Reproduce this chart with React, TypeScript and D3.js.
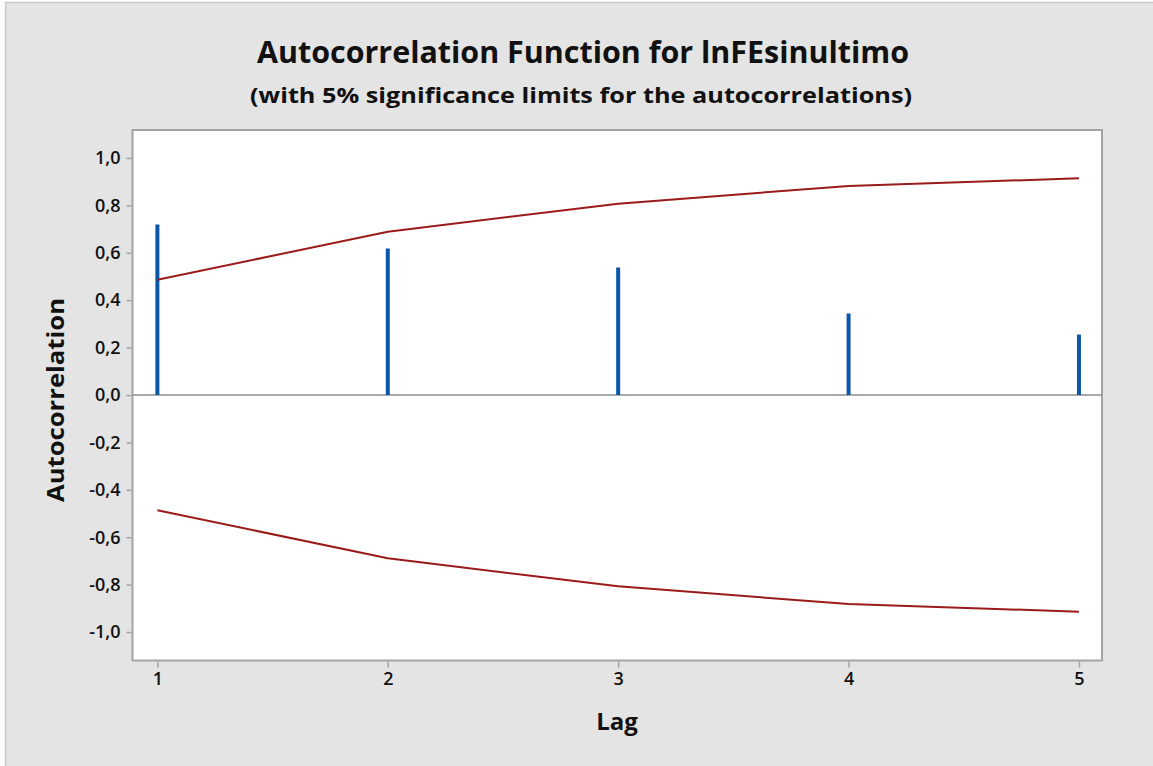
import React, { useEffect, useRef } from "react";
import * as d3 from "d3";

// Autocorrelation values by lag
const lags = [1, 2, 3, 4, 5];
const acf = [0.719, 0.618, 0.538, 0.344, 0.255];
// 5% significance limits (upper bound; lower is mirrored)
const upperLimit = [0.486, 0.689, 0.807, 0.882, 0.914];
const lowerLimit = [-0.486, -0.689, -0.807, -0.882, -0.914];
const yTicks = [-1.0, -0.8, -0.6, -0.4, -0.2, 0.0, 0.2, 0.4, 0.6, 0.8, 1.0];

const W = 1153;
const H = 766;
const plot = { left: 132.5, top: 130, right: 1102, bottom: 660.5 };
const FONT = "'Open Sans', 'Noto Sans', sans-serif";

export default function App() {
  const ref = useRef<SVGSVGElement>(null);

  useEffect(() => {
    const svg = d3.select(ref.current);
    svg.selectAll("*").remove();

    const x = d3.scaleLinear().domain([0.892, 5.1]).range([plot.left, plot.right]);
    const y = d3.scaleLinear().domain([-1.12, 1.118]).range([plot.bottom, plot.top]);

    // page background
    svg.append("rect").attr("width", W).attr("height", H).attr("fill", "#ffffff");
    svg.append("rect")
      .attr("x", 5.5).attr("y", 2.5).attr("width", W).attr("height", H)
      .attr("fill", "#e4e4e4").attr("stroke", "#c9c9c9").attr("stroke-width", 1.5);

    // titles
    svg.append("text")
      .attr("x", 583).attr("y", 63).attr("text-anchor", "middle")
      .attr("font-family", FONT).attr("font-weight", 700).attr("font-size", 30)
      .attr("textLength", 652).attr("lengthAdjust", "spacingAndGlyphs")
      .attr("fill", "#111")
      .text("Autocorrelation Function for lnFEsinultimo");
    svg.append("text")
      .attr("x", 581).attr("y", 103).attr("text-anchor", "middle")
      .attr("font-family", FONT).attr("font-weight", 700).attr("font-size", 22)
      .attr("textLength", 662).attr("lengthAdjust", "spacingAndGlyphs")
      .attr("fill", "#111")
      .text("(with 5% significance limits for the autocorrelations)");

    // plot area
    svg.append("rect")
      .attr("x", plot.left).attr("y", plot.top)
      .attr("width", plot.right - plot.left).attr("height", plot.bottom - plot.top)
      .attr("fill", "#ffffff").attr("stroke", "#a3a3a3").attr("stroke-width", 2);

    // y axis
    const yAxis = d3.axisLeft(y)
      .tickValues(yTicks)
      .tickSize(5)
      .tickPadding(6)
      .tickFormat((d) => d3.format(".1f")(d as number).replace(".", ",").replace("−", "-"));
    const gy = svg.append("g").attr("transform", `translate(${plot.left - 1},0)`).call(yAxis);
    gy.select(".domain").remove();
    gy.selectAll(".tick line").attr("stroke", "#a3a3a3").attr("stroke-width", 1.5);
    gy.selectAll(".tick text")
      .attr("font-family", FONT).attr("font-weight", 600).attr("font-size", 18).attr("fill", "#111");

    // x axis
    const xAxis = d3.axisBottom(x).tickValues(lags).tickSize(6).tickPadding(5)
      .tickFormat((d) => String(d));
    const gx = svg.append("g").attr("transform", `translate(0,${plot.bottom + 1})`).call(xAxis);
    gx.select(".domain").remove();
    gx.selectAll(".tick line").attr("stroke", "#a3a3a3").attr("stroke-width", 1.5);
    gx.selectAll(".tick text")
      .attr("font-family", FONT).attr("font-weight", 600).attr("font-size", 18).attr("fill", "#111");

    // axis titles
    svg.append("text")
      .attr("x", 617).attr("y", 730).attr("text-anchor", "middle")
      .attr("font-family", FONT).attr("font-weight", 700).attr("font-size", 24).attr("fill", "#111")
      .text("Lag");
    svg.append("text")
      .attr("transform", `translate(64,400) rotate(-90)`).attr("text-anchor", "middle")
      .attr("font-family", FONT).attr("font-weight", 700).attr("font-size", 24).attr("fill", "#111")
      .attr("textLength", 204).attr("lengthAdjust", "spacingAndGlyphs")
      .text("Autocorrelation");

    // zero reference line
    svg.append("line")
      .attr("x1", plot.left).attr("x2", plot.right)
      .attr("y1", y(0)).attr("y2", y(0))
      .attr("stroke", "#8c8c8c").attr("stroke-width", 1.5);

    // ACF bars
    svg.append("g").selectAll("line").data(lags).join("line")
      .attr("x1", (d) => x(d)).attr("x2", (d) => x(d))
      .attr("y1", y(0)).attr("y2", (_, i) => y(acf[i]))
      .attr("stroke", "#0a56a8").attr("stroke-width", 4);

    // significance limits
    const line = d3.line<number>().x((_, i) => x(lags[i])).y((d) => y(d));
    [upperLimit, lowerLimit].forEach((series) => {
      svg.append("path").attr("d", line(series)!)
        .attr("fill", "none").attr("stroke", "#9b1a1a").attr("stroke-width", 2);
    });
  }, []);

  return (
    <svg
      ref={ref}
      width={W}
      height={H}
      style={{ position: "absolute", left: 0, top: 0, display: "block" }}
    />
  );
}
